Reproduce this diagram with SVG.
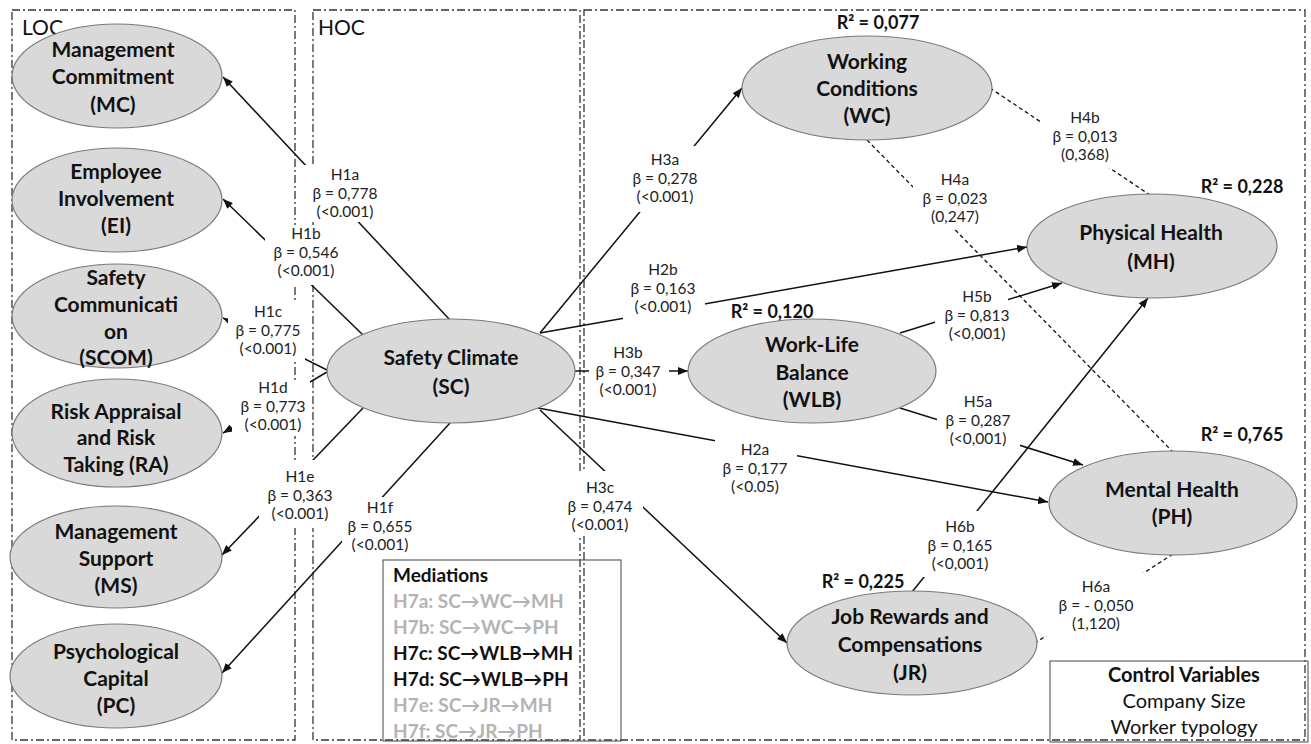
<svg xmlns="http://www.w3.org/2000/svg" width="1311" height="744" viewBox="0 0 1311 744">
<defs>
<style>
.frame{fill:none;stroke:#333;stroke-width:1.3;stroke-dasharray:8 3 2 3}
.box{fill:none;stroke:#555;stroke-width:1.1}
.el{fill:#d9d9d9;stroke:#7a7a7a;stroke-width:1.2}
.nt{font-family:Lato,"Liberation Sans",sans-serif;font-weight:bold;font-size:21px;text-anchor:middle;fill:#111}
.conn{stroke:#111;stroke-width:1.5;fill:none}
.dash{stroke:#111;stroke-width:1.3;stroke-dasharray:4 3;fill:none}
.lbg{fill:#fff}
.lt{font-family:Lato,"Liberation Sans",sans-serif;font-size:15.5px;text-anchor:middle;fill:#222}
.r2{font-family:Lato,"Liberation Sans",sans-serif;font-weight:bold;font-size:18px;text-anchor:middle;fill:#111}
.title{font-family:Lato,"Liberation Sans",sans-serif;font-size:21px;fill:#111}
.med{font-family:Lato,"Liberation Sans","DejaVu Sans",sans-serif;font-weight:bold;font-size:19px}
.gray{fill:#b3b3b3}
.blk{fill:#111}
.cv{font-family:Lato,"Liberation Sans",sans-serif;font-size:20px;text-anchor:middle;fill:#111}
</style>
<marker id="ah" viewBox="0 0 10 8" refX="10" refY="4" markerWidth="10" markerHeight="8" markerUnits="userSpaceOnUse" orient="auto">
<path d="M0,0 L10,4 L0,8 z" fill="#111"/>
</marker>
</defs>
<rect width="1311" height="744" fill="#fff"/>

<g id="frames">
<rect class="frame" x="12" y="10" width="283" height="730"/>
<rect class="frame" x="313" y="10" width="267" height="730"/>
<rect class="frame" x="584" y="10" width="721" height="730"/>
<text class="title" x="22" y="35">LOC</text>
<text class="title" x="318" y="35">HOC</text>
</g>

<g id="mediations">
<rect class="box" x="383" y="560" width="238" height="181"/>
<text class="med blk" x="393" y="582">Mediations</text>
<text class="med gray" x="393" y="608">H7a: SC→WC→MH</text>
<text class="med gray" x="393" y="634">H7b: SC→WC→PH</text>
<text class="med blk" x="393" y="660">H7c: SC→WLB→MH</text>
<text class="med blk" x="393" y="686">H7d: SC→WLB→PH</text>
<text class="med gray" x="393" y="712">H7e: SC→JR→MH</text>
<text class="med gray" x="393" y="738">H7f: SC→JR→PH</text>
</g>

<g id="controls">
<rect class="box" x="1050" y="661" width="258" height="81"/>
<text class="cv" x="1184" y="682" font-weight="bold">Control Variables</text>
<text class="cv" x="1184" y="708">Company Size</text>
<text class="cv" x="1184" y="734">Worker typology</text>
</g>

<g id="connectors">
<line class="conn" x1="450" y1="320" x2="223" y2="77" marker-end="url(#ah)"/>
<line class="conn" x1="363" y1="335" x2="223" y2="199" marker-end="url(#ah)"/>
<line class="conn" x1="327" y1="370" x2="223" y2="318" marker-end="url(#ah)"/>
<line class="conn" x1="327" y1="372" x2="223" y2="433" marker-end="url(#ah)"/>
<line class="conn" x1="363" y1="408" x2="222" y2="555" marker-end="url(#ah)"/>
<line class="conn" x1="450" y1="423" x2="222" y2="673" marker-end="url(#ah)"/>
<line class="conn" x1="540" y1="333" x2="742" y2="88" marker-end="url(#ah)"/>
<line class="conn" x1="540" y1="333" x2="1027" y2="247" marker-end="url(#ah)"/>
<line class="conn" x1="575" y1="371" x2="688" y2="371" marker-end="url(#ah)"/>
<line class="conn" x1="538" y1="408" x2="1048" y2="502" marker-end="url(#ah)"/>
<line class="conn" x1="540" y1="410" x2="787" y2="643" marker-end="url(#ah)"/>
<line class="dash" x1="990" y1="88" x2="1150" y2="195"/>
<line class="dash" x1="867" y1="140" x2="1172" y2="451"/>
<line class="conn" x1="900" y1="333" x2="1062" y2="283" marker-end="url(#ah)"/>
<line class="conn" x1="900" y1="408" x2="1083" y2="465" marker-end="url(#ah)"/>
<line class="conn" x1="912" y1="592" x2="1148" y2="298" marker-end="url(#ah)"/>
<line class="dash" x1="1173" y1="554" x2="1035" y2="643"/>
</g>

<g id="MC"><ellipse class="el" cx="117" cy="76" rx="105" ry="52"/>
<text class="nt" x="113" y="57">Management</text><text class="nt" x="113" y="84">Commitment</text><text class="nt" x="113" y="112">(MC)</text></g>
<g id="EI"><ellipse class="el" cx="117" cy="200" rx="105" ry="52"/>
<text class="nt" x="116" y="179">Employee</text><text class="nt" x="116" y="206">Involvement</text><text class="nt" x="116" y="233">(EI)</text></g>
<g id="SCOM"><ellipse class="el" cx="117" cy="316" rx="105" ry="52"/>
<text class="nt" x="116" y="285">Safety</text><text class="nt" x="116" y="312">Communicati</text><text class="nt" x="116" y="339">on</text><text class="nt" x="116" y="365">(SCOM)</text></g>
<g id="RA"><ellipse class="el" cx="117" cy="433" rx="105" ry="54"/>
<text class="nt" x="116" y="419">Risk Appraisal</text><text class="nt" x="116" y="445">and Risk</text><text class="nt" x="116" y="472">Taking (RA)</text></g>
<g id="MS"><ellipse class="el" cx="116" cy="557" rx="106" ry="51"/>
<text class="nt" x="116" y="539">Management</text><text class="nt" x="116" y="566">Support</text><text class="nt" x="116" y="593">(MS)</text></g>
<g id="PC"><ellipse class="el" cx="116" cy="676" rx="106" ry="52"/>
<text class="nt" x="116" y="659">Psychological</text><text class="nt" x="116" y="686">Capital</text><text class="nt" x="116" y="713">(PC)</text></g>
<g id="SC"><ellipse class="el" cx="451" cy="371" rx="124" ry="52"/>
<text class="nt" x="451" y="365">Safety Climate</text><text class="nt" x="451" y="394">(SC)</text></g>
<g id="WC"><ellipse class="el" cx="867" cy="88" rx="125" ry="52"/>
<text class="nt" x="867" y="69">Working</text><text class="nt" x="867" y="96">Conditions</text><text class="nt" x="867" y="123">(WC)</text>
<text class="r2" x="878" y="29">R² = 0,077</text></g>
<g id="MH"><ellipse class="el" cx="1152" cy="246" rx="125" ry="52"/>
<text class="nt" x="1151" y="240">Physical Health</text><text class="nt" x="1151" y="269">(MH)</text>
<text class="r2" x="1242" y="193">R² = 0,228</text></g>
<g id="WLB"><ellipse class="el" cx="812" cy="371" rx="124" ry="52"/>
<text class="nt" x="812" y="352">Work-Life</text><text class="nt" x="812" y="380">Balance</text><text class="nt" x="812" y="407">(WLB)</text>
<text class="r2" x="772" y="318">R² = 0,120</text></g>
<g id="PH"><ellipse class="el" cx="1173" cy="503" rx="124" ry="52"/>
<text class="nt" x="1172" y="497">Mental Health</text><text class="nt" x="1172" y="524">(PH)</text>
<text class="r2" x="1242" y="441">R² = 0,765</text></g>
<g id="JR"><ellipse class="el" cx="912" cy="643" rx="125" ry="52"/>
<text class="nt" x="910" y="624">Job Rewards and</text><text class="nt" x="910" y="652">Compensations</text><text class="nt" x="910" y="680">(JR)</text>
<text class="r2" x="863" y="588">R² = 0,225</text></g>

<g id="labels">
<g id="L-H1a"><rect class="lbg" x="300" y="165" width="90" height="57"/>
<text class="lt" x="345" y="180">H1a</text><text class="lt" x="345" y="198.5">β = 0,778</text><text class="lt" x="345" y="217">(&lt;0.001)</text></g>
<g id="L-H1b"><rect class="lbg" x="265" y="225" width="82" height="60"/>
<text class="lt" x="306" y="239">H1b</text><text class="lt" x="306" y="257.5">β = 0,546</text><text class="lt" x="306" y="276">(&lt;0.001)</text></g>
<g id="L-H1c"><rect class="lbg" x="228" y="301" width="77" height="59"/>
<text class="lt" x="268" y="317">H1c</text><text class="lt" x="268" y="335.5">β = 0,775</text><text class="lt" x="268" y="354">(&lt;0.001)</text></g>
<g id="L-H1d"><rect class="lbg" x="232" y="381" width="78" height="55"/>
<text class="lt" x="273" y="393">H1d</text><text class="lt" x="273" y="411.5">β = 0,773</text><text class="lt" x="273" y="430">(&lt;0.001)</text></g>
<g id="L-H1e"><rect class="lbg" x="259" y="460" width="83" height="68"/>
<text class="lt" x="300" y="482">H1e</text><text class="lt" x="300" y="500.5">β = 0,363</text><text class="lt" x="300" y="519">(&lt;0.001)</text></g>
<g id="L-H1f"><rect class="lbg" x="342" y="497" width="76" height="55"/>
<text class="lt" x="380" y="513">H1f</text><text class="lt" x="380" y="531.5">β = 0,655</text><text class="lt" x="380" y="550">(&lt;0.001)</text></g>
<g id="L-H3a"><rect class="lbg" x="628" y="146" width="74" height="66"/>
<text class="lt" x="665" y="165">H3a</text><text class="lt" x="665" y="183.5">β = 0,278</text><text class="lt" x="665" y="202">(&lt;0.001)</text></g>
<g id="L-H2b"><rect class="lbg" x="623" y="257" width="82" height="62"/>
<text class="lt" x="663" y="275">H2b</text><text class="lt" x="663" y="293.5">β = 0,163</text><text class="lt" x="663" y="312">(&lt;0.001)</text></g>
<g id="L-H3b"><rect class="lbg" x="589" y="340" width="80" height="60"/>
<text class="lt" x="628" y="358">H3b</text><text class="lt" x="628" y="376.5">β = 0,347</text><text class="lt" x="628" y="395">(&lt;0.001)</text></g>
<g id="L-H2a"><rect class="lbg" x="715" y="438" width="82" height="58"/>
<text class="lt" x="755" y="455">H2a</text><text class="lt" x="755" y="473.5">β = 0,177</text><text class="lt" x="755" y="492">(&lt;0.05)</text></g>
<g id="L-H3c"><rect class="lbg" x="560" y="471" width="83" height="64"/>
<text class="lt" x="600" y="493">H3c</text><text class="lt" x="600" y="511.5">β = 0,474</text><text class="lt" x="600" y="530">(&lt;0.001)</text></g>
<g id="L-H4b"><rect class="lbg" x="1042" y="106" width="86" height="62"/>
<text class="lt" x="1085" y="123">H4b</text><text class="lt" x="1085" y="141.5">β = 0,013</text><text class="lt" x="1085" y="160">(0,368)</text></g>
<g id="L-H4a"><rect class="lbg" x="913" y="168" width="84" height="61"/>
<text class="lt" x="955" y="185">H4a</text><text class="lt" x="955" y="203.5">β = 0,023</text><text class="lt" x="955" y="222">(0,247)</text></g>
<g id="L-H5b"><rect class="lbg" x="935" y="286" width="73" height="58"/>
<text class="lt" x="977" y="302">H5b</text><text class="lt" x="977" y="320.5">β = 0,813</text><text class="lt" x="977" y="339">(&lt;0,001)</text></g>
<g id="L-H5a"><rect class="lbg" x="937" y="390" width="83" height="60"/>
<text class="lt" x="978" y="407">H5a</text><text class="lt" x="978" y="425.5">β = 0,287</text><text class="lt" x="978" y="444">(&lt;0,001)</text></g>
<g id="L-H6b"><rect class="lbg" x="922" y="511" width="76" height="66"/>
<text class="lt" x="960" y="532">H6b</text><text class="lt" x="960" y="550.5">β = 0,165</text><text class="lt" x="960" y="569">(&lt;0,001)</text></g>
<g id="L-H6a"><rect class="lbg" x="1045" y="573" width="100" height="63"/>
<text class="lt" x="1096" y="592">H6a</text><text class="lt" x="1096" y="610.5">β = - 0,050</text><text class="lt" x="1096" y="629">(1,120)</text></g>
</g>
</svg>
